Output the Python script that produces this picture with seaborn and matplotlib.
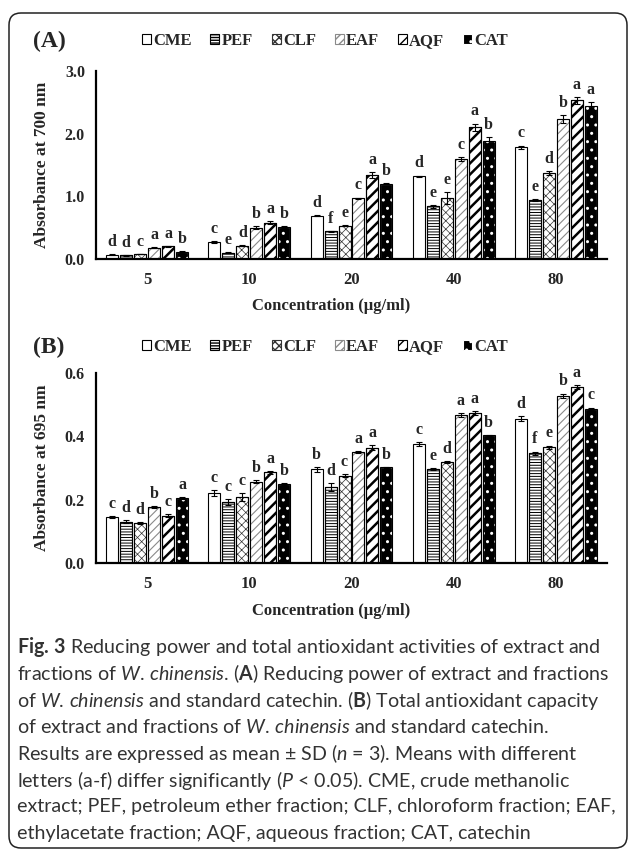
import numpy as np
import pandas as pd
import seaborn as sns
import matplotlib.pyplot as plt
from matplotlib.patches import FancyBboxPatch, Rectangle, Patch
from matplotlib.transforms import IdentityTransform

# concentrations (x groups) and samples (hue)
conc = ['5', '10', '20', '40', '80']
samples = ['CME', 'PEF', 'CLF', 'EAF', 'AQF', 'CAT']

# (A) reducing power, absorbance at 700 nm
a_mean = {'CME': [0.07, 0.27, 0.69, 1.32, 1.78],
          'PEF': [0.06, 0.10, 0.44, 0.84, 0.94],
          'CLF': [0.08, 0.21, 0.53, 0.97, 1.37],
          'EAF': [0.18, 0.50, 0.97, 1.59, 2.23],
          'AQF': [0.20, 0.58, 1.34, 2.10, 2.53],
          'CAT': [0.11, 0.51, 1.20, 1.88, 2.44]}
a_sd = {'CME': [0.01, 0.01, 0.01, 0.01, 0.03],
        'PEF': [0.005, 0.01, 0.01, 0.02, 0.01],
        'CLF': [0.005, 0.01, 0.01, 0.10, 0.03],
        'EAF': [0.01, 0.02, 0.01, 0.03, 0.06],
        'AQF': [0.01, 0.02, 0.05, 0.06, 0.05],
        'CAT': [0.01, 0.01, 0.01, 0.07, 0.07]}
a_letters = {'CME': ['d', 'c', 'd', 'd', 'c'],
             'PEF': ['d', 'e', 'f', 'e', 'e'],
             'CLF': ['c', 'd', 'e', 'e', 'd'],
             'EAF': ['a', 'b', 'c', 'c', 'b'],
             'AQF': ['a', 'a', 'a', 'a', 'a'],
             'CAT': ['b', 'b', 'b', 'b', 'a']}

# (B) total antioxidant capacity, absorbance at 695 nm
b_mean = {'CME': [0.145, 0.221, 0.296, 0.376, 0.456],
          'PEF': [0.131, 0.193, 0.240, 0.297, 0.347],
          'CLF': [0.125, 0.209, 0.276, 0.319, 0.365],
          'EAF': [0.177, 0.257, 0.350, 0.467, 0.528],
          'AQF': [0.150, 0.286, 0.364, 0.474, 0.556],
          'CAT': [0.205, 0.249, 0.302, 0.403, 0.487]}
b_sd = {'CME': [0.003, 0.008, 0.008, 0.006, 0.007],
        'PEF': [0.004, 0.010, 0.012, 0.004, 0.005],
        'CLF': [0.003, 0.012, 0.004, 0.003, 0.006],
        'EAF': [0.003, 0.005, 0.003, 0.007, 0.007],
        'AQF': [0.004, 0.004, 0.008, 0.006, 0.007],
        'CAT': [0.002, 0.003, 0.002, 0.002, 0.004]}
b_letters = {'CME': ['c', 'c', 'b', 'c', 'd'],
             'PEF': ['d', 'c', 'd', 'e', 'f'],
             'CLF': ['d', 'c', 'c', 'd', 'e'],
             'EAF': ['b', 'b', 'a', 'a', 'b'],
             'AQF': ['c', 'a', 'a', 'a', 'a'],
             'CAT': ['a', 'b', 'b', 'b', 'c']}

caption = [r"$\mathbf{Fig.\,3}$ Reducing power and total antioxidant activities of extract and",
           r"fractions of $\mathit{W.\,chinensis}$. ($\mathbf{A}$) Reducing power of extract and fractions",
           r"of $\mathit{W.\,chinensis}$ and standard catechin. ($\mathbf{B}$) Total antioxidant capacity",
           r"of extract and fractions of $\mathit{W.\,chinensis}$ and standard catechin.",
           r"Results are expressed as mean ± SD ($\mathit{n}$ = 3). Means with different",
           r"letters (a-f) differ significantly ($\mathit{P}$ < 0.05). CME, crude methanolic",
           "extract; PEF, petroleum ether fraction; CLF, chloroform fraction; EAF,",
           "ethylacetate fraction; AQF, aqueous fraction; CAT, catechin"]

# bar styles: face colour, hatch, hatch colour, hatch line width
face = {'CME': 'white', 'PEF': 'white', 'CLF': 'white', 'EAF': 'white', 'AQF': 'white', 'CAT': 'black'}
hatch = {'CME': None, 'PEF': '------', 'CLF': 'xxxx', 'EAF': '////', 'AQF': '///', 'CAT': '..'}
hcol = {'CME': 'black', 'PEF': 'black', 'CLF': '#333333', 'EAF': '#8a8a8a', 'AQF': 'black', 'CAT': 'white'}
hlw = {'CME': 0.6, 'PEF': 0.7, 'CLF': 0.5, 'EAF': 0.8, 'AQF': 1.8, 'CAT': 1.0}

sns.set_style('white')
plt.rcParams['font.family'] = ['Liberation Serif', 'DejaVu Serif']
plt.rcParams['mathtext.fontset'] = 'custom'
plt.rcParams['mathtext.rm'] = 'Lato'
plt.rcParams['mathtext.it'] = 'Lato:italic'
plt.rcParams['mathtext.bf'] = 'Lato:bold'

W, H = 629, 849
fig = plt.figure(figsize=(W / 100, H / 100), dpi=100)
fig.patch.set_facecolor('white')


def draw_panel(rect, means, sds, letters, ymax, ystep, ylabel, tag, tag_y):
    ax = fig.add_axes(rect)
    rows = []
    for s in samples:
        for i, c in enumerate(conc):
            rows.append({'conc': c, 'sample': s, 'value': means[s][i]})
    df = pd.DataFrame(rows)
    sns.barplot(data=df, x='conc', y='value', hue='sample', order=conc, hue_order=samples,
                palette=face, saturation=1, width=0.82, gap=0.14, errorbar=None,
                edgecolor='black', linewidth=0.8, legend=False, ax=ax)

    for s, cont in zip(samples, ax.containers):
        xs, tops = [], []
        for i, p in enumerate(cont.patches):
            if hatch[s]:
                p.set_hatch(hatch[s])
                p.set_edgecolor(hcol[s])
                if hasattr(p, 'set_hatch_linewidth'):
                    p.set_hatch_linewidth(hlw[s])
                ax.add_patch(Rectangle(p.get_xy(), p.get_width(), p.get_height(),
                                       fill=False, edgecolor='black', linewidth=0.8, zorder=p.get_zorder() + 0.1))
            xs.append(p.get_x() + p.get_width() / 2)
            tops.append(p.get_height())
        ax.errorbar(xs, tops, yerr=sds[s], fmt='none', ecolor='black', elinewidth=0.8,
                    capsize=2.2, capthick=0.8, zorder=5)
        for x, t, e, l in zip(xs, tops, sds[s], letters[s]):
            ax.annotate(l, (x, t + e), xytext=(0, 3), textcoords='offset points',
                        ha='center', va='bottom', fontsize=11.5, fontweight='bold')

    ax.set_xlim(-0.5, 4.5)
    ax.set_ylim(0, ymax)
    ax.set_yticks(np.arange(0, ymax + 1e-9, ystep))
    ax.set_yticklabels([f'{v:.1f}' for v in np.arange(0, ymax + 1e-9, ystep)])
    ax.set_xticks(range(len(conc)))
    ax.set_xticks(np.arange(-0.5, 5, 1), minor=True)
    ax.tick_params(axis='x', which='major', length=0, pad=9, labelsize=12)
    ax.tick_params(axis='x', which='minor', length=4, width=1.5, direction='out')
    ax.tick_params(axis='y', length=4, width=1.5, direction='out', pad=4, labelsize=11.5)
    for lab in ax.get_xticklabels() + ax.get_yticklabels():
        lab.set_fontweight('bold')
    for side in ['top', 'right']:
        ax.spines[side].set_visible(False)
    for side in ['left', 'bottom']:
        ax.spines[side].set_linewidth(1.6)
        ax.spines[side].set_color('black')

    ax.set_xlabel('Concentration (µg/ml)', fontsize=12, fontweight='bold')
    ax.xaxis.set_label_coords(0.46, -0.21)
    ax.set_ylabel(ylabel, fontsize=12.5, fontweight='bold')
    ax.yaxis.set_label_coords(-0.09, 0.5)

    handles = [Patch(facecolor=face[s], edgecolor=hcol[s] if hatch[s] else 'black',
                     hatch=hatch[s], linewidth=0.8) for s in samples]
    fig.legend(handles, samples, loc='center', bbox_to_anchor=(325 / W, 1 - tag_y / H),
               ncol=6, frameon=False, handlelength=0.55, handleheight=0.55,
               handletextpad=0.15, columnspacing=1.1, prop={'weight': 'bold', 'size': 12})
    fig.text(33 / W, 1 - tag_y / H, tag, ha='left', va='center', fontsize=17, fontweight='bold')
    return ax


# panel rectangles in figure fractions (left, bottom, width, height)
draw_panel([96 / W, 1 - 259 / H, 511 / W, 188 / H], a_mean, a_sd, a_letters,
           3.0, 1.0, 'Absorbance at 700 nm', '(A)', 41)
draw_panel([96 / W, 1 - 563 / H, 511 / W, 190 / H], b_mean, b_sd, b_letters,
           0.6, 0.2, 'Absorbance at 695 nm', '(B)', 347)

# caption, scaled so the longest line spans the box width
cap_kw = dict(family='Lato', color='#333333', ha='left', va='center')
fig.canvas.draw()
widest = 0
for line in caption:
    probe = fig.text(0, 0, line, fontsize=12, **cap_kw)
    widest = max(widest, probe.get_window_extent(fig.canvas.get_renderer()).width)
    probe.remove()
cap_size = 12 * (613 - 17) / widest
for k, line in enumerate(caption):
    fig.text(17 / W, 1 - (647 + 26.6 * k) / H, line, fontsize=cap_size, **cap_kw)

# rounded frame around the figure
frame = FancyBboxPatch((9, 1), 618, 835, boxstyle='round,pad=0,rounding_size=12',
                       transform=IdentityTransform(), fill=False, edgecolor='#222222',
                       linewidth=1.1)
fig.patches.append(frame)

fig.savefig('out.png', dpi=100)
